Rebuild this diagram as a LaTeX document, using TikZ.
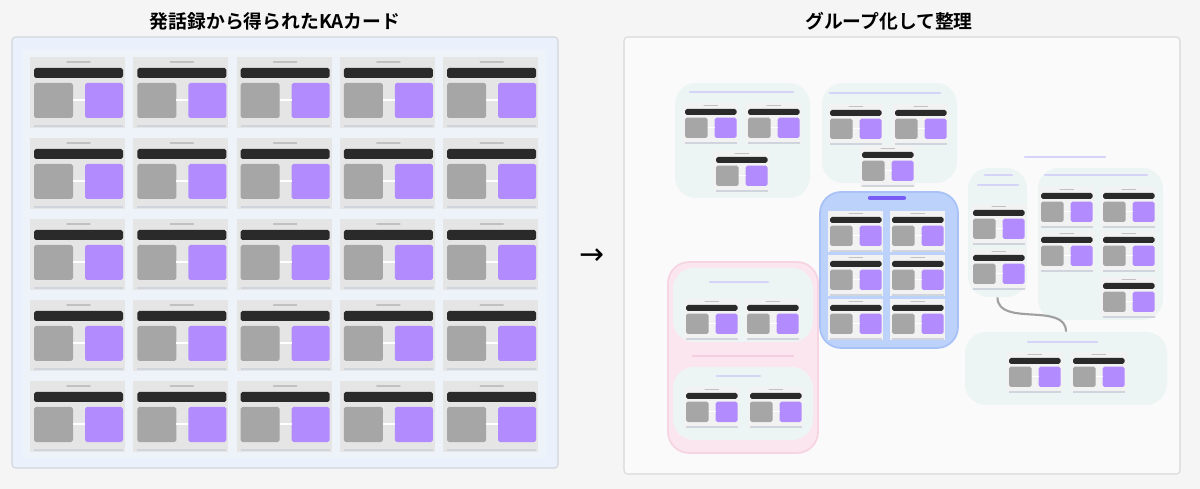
\documentclass[tikz,border=0pt]{standalone}
\usepackage{fontspec}
\usepackage{tikz}
\usetikzlibrary{arrows.meta, positioning, fit}
\newfontfamily\cjk{Noto Sans CJK JP}[BoldFont={Noto Sans CJK JP Bold}]
\newfontfamily\symfont{DejaVu Sans}

\definecolor{pagebg}{RGB}{245,245,245}
\definecolor{kapanel}{RGB}{234,241,253}
\definecolor{kainner}{RGB}{238,242,249}
\definecolor{panelline}{RGB}{208,212,220}
\definecolor{boardfill}{RGB}{250,250,250}
\definecolor{boardline}{RGB}{216,216,216}
\definecolor{grpteal}{RGB}{236,245,244}
\definecolor{grpblue}{RGB}{188,210,251}
\definecolor{grpblueline}{RGB}{168,194,248}
\definecolor{grppink}{RGB}{251,230,239}
\definecolor{grppinkline}{RGB}{246,212,226}
\definecolor{cardbar}{RGB}{42,42,42}
\definecolor{cardgray}{RGB}{166,166,166}
\definecolor{cardpurple}{RGB}{178,140,254}
\definecolor{cardtile}{RGB}{229,229,229}
\definecolor{cardlight}{RGB}{242,242,242}
\definecolor{labelblue}{RGB}{214,211,248}
\definecolor{labelpink}{RGB}{244,206,222}
\definecolor{labelviolet}{RGB}{120,92,245}
\definecolor{linkgray}{RGB}{160,160,160}

\tikzset{
  % one KA card, placed by the top left corner of its dark bar
  kacard/.pic={
    \fill[#1] (-4,-11) rectangle (91,60);
    \draw[cardgray!70, line width=.8pt, line cap=round] (33,-6) -- (56,-6);
    \fill[cardbar, rounded corners=1pt] (0,0) rectangle (89,10);
    \fill[cardgray, rounded corners=1pt] (0,15) rectangle (39,50);
    \fill[cardpurple, rounded corners=1pt] (51,15) rectangle (89,50);
    \draw[white, line width=1pt] (39,32) -- (51,32);
    \draw[panelline, line width=1pt] (0,58) -- (89,58);
  },
  panelbox/.style={draw=panelline, line width=.6pt, rounded corners=2pt, inner sep=0pt},
  groupbox/.style={fill=grpteal, rounded corners=12pt, inner sep=0pt},
  titletext/.style={font=\cjk\bfseries\fontsize{10.7pt}{13pt}\selectfont, text=black},
  blurlabel/.style={line width=1.5pt, line cap=round, labelblue}
}

\begin{document}
\begin{tikzpicture}[x=0.02cm, y=-0.02cm]
  \fill[pagebg] (0,0) rectangle (1200,489);
  \useasboundingbox (0,0) rectangle (1200,489);

  % titles
  \node[titletext] (titleL) at (275,21) {発話録から得られたKAカード};
  \node[titletext] (titleR) at (889,21) {グループ化して整理};

  % left: all cards
  \node[panelbox, fill=kapanel, fit={(12,37) (558,468)}] (kaPanel) {};
  \fill[kainner] (23,49) rectangle (547,458);
  \foreach \c in {0,...,4}
    \foreach \r in {0,...,4}
      \pic at ({34+103.3*\c},{68+81*\r}) {kacard=cardtile};

  \node[font=\symfont\fontsize{17pt}{19pt}\selectfont] (toArrow) at (592,257) {→};

  % right: grouped board
  \node[panelbox, draw=boardline, fill=boardfill, fit={(624,37) (1180,474)}] (board) {};

  \node[groupbox, fit={(675,83) (810,198)}] (grpA) {};
  \node[groupbox, fit={(822,83) (957,183)}] (grpB) {};
  \node[groupbox, fill=grpblue, draw=grpblueline, line width=1pt, fit={(820,192) (958,348)}] (grpC) {};
  \node[groupbox, fit={(968,168) (1027,297)}] (grpD) {};
  \node[groupbox, fit={(1038,168) (1163,320)}] (grpE) {};
  \node[groupbox, fit={(965,332) (1167,405)}] (grpF) {};
  \node[groupbox, fill=grppink, draw=grppinkline, line width=1pt, fit={(668,262) (818,453)}] (grpG) {};
  \node[groupbox, fit={(673,268) (813,342)}] (grpGa) {};
  \node[groupbox, fit={(673,367) (813,440)}] (grpGb) {};

  % group headings (unreadable in the board)
  \foreach \xa/\xb/\y in {690/793/92, 830/940/93, 1025/1105/157, 985/1012/175,
                          978/1018/185, 1045/1147/175, 1028/1097/342, 710/768/282, 717/760/376}
    \draw[blurlabel] (\xa,\y) -- (\xb,\y);
  \draw[blurlabel, labelpink] (693,356) -- (793,356);
  \draw[blurlabel, labelviolet, line width=2.4pt] (870,198) -- (904,198);

  \draw[linkgray, line width=1.2pt] (grpD.south) to[out=-90, in=90] (grpF.north);

  \foreach \x/\y in {685/109, 748/109, 716/157, 830/110, 895/110, 862/152,
                     830/217, 892/217, 830/261, 892/261, 830/305, 892/305,
                     973/210, 973/255, 1041/193, 1103/193, 1041/237, 1103/237, 1103/283,
                     1009/358, 1073/358, 686/305, 747/305, 686/393, 750/393}
    \pic[scale=.58] at (\x,\y) {kacard=cardlight};
\end{tikzpicture}
\end{document}
